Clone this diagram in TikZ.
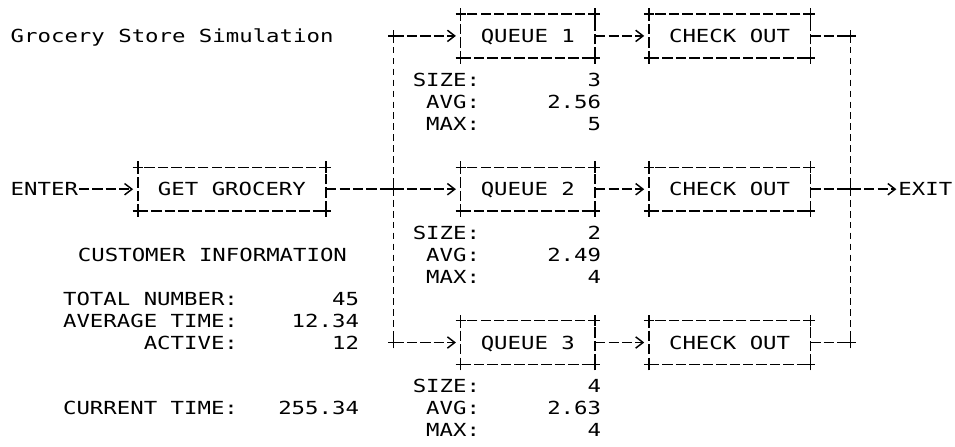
\documentclass[tikz,border=0pt]{standalone}
\usepackage{fontspec}
\setmonofont{DejaVu Sans Mono}[FakeStretch=1.241]
\usetikzlibrary{arrows.meta}

\begin{document}
\begin{tikzpicture}[x=10.0875pt,y=-16.425pt,line width=1.1pt,
  font=\ttfamily\fontsize{13.5}{16}\selectfont,
  scrtext/.style={inner sep=0pt,text height=9.84pt,text depth=0pt},
  dashrow/.style={dash pattern=on 7.8pt off 2.2875pt},
  dashcol/.style={dash pattern=on 5pt off 3.2pt},
  stagebox/.style={scrtext,draw,dashrow,outer sep=0pt,minimum height=32.85pt},
  flow/.style={dashrow,-{Straight Barb[length=5.5pt,width=8.5pt]},shorten >=3.5pt},
  plusmark/.pic={\draw[solid] (-3.8pt,0) -- (3.8pt,0) (0,-4.4pt) -- (0,4.4pt);}]
% one column = one character cell, one row = one text line
\useasboundingbox (-0.7435,-0.639) rectangle (70.26,19.77);
\node[scrtext,anchor=west] (title) at (0,1) {Grocery Store Simulation};
\node[scrtext,anchor=west] (enter) at (0,8) {ENTER};
\node[stagebox,minimum width=141.225pt] (gg) at (16.5,8) {GET GROCERY};
\node[scrtext,anchor=west] (exit) at (66,8) {EXIT};
\foreach \row/\k in {1/1,8/2,15/3}{
  \node[stagebox,minimum width=100.875pt] (q\k) at (38.5,\row) {QUEUE \k};
  \node[stagebox,minimum width=121.05pt] (co\k) at (53.5,\row) {CHECK OUT};
  \coordinate (jl\k) at (28.5,\row);
  \coordinate (jr\k) at (62.5,\row);
  \draw[flow] (jl\k) -- (q\k);
  \draw[flow] (q\k) -- (co\k);
  \draw[dashrow] (co\k) -- (jr\k);
}
\draw[flow] (enter) -- (gg);
\draw[dashrow] (gg) -- (jl2);
\draw[dashcol] (jl1) -- (jl3);
\draw[dashcol] (jr1) -- (jr3);
\draw[flow,shorten >=1pt] (jr2) -- (exit);
% queue statistics
\foreach \row/\sz/\av/\mx [count=\k] in {1/3/2.56/5,8/2/2.49/4,15/4/2.63/4}{
  \node[scrtext,anchor=east] (sizel\k) at (35,\row+2) {SIZE:};
  \node[scrtext,anchor=east] (avgl\k) at (35,\row+3) {AVG:};
  \node[scrtext,anchor=east] (maxl\k) at (35,\row+4) {MAX:};
  \node[scrtext,anchor=east] (size\k) at (44,\row+2) {\sz};
  \node[scrtext,anchor=east] (avg\k) at (44,\row+3) {\av};
  \node[scrtext,anchor=east] (max\k) at (44,\row+4) {\mx};
}
% customer information
\node[scrtext,anchor=west] (custinfo) at (5,11) {CUSTOMER INFORMATION};
\foreach \row/\lab/\val/\nm in {13/TOTAL NUMBER:/45/total,14/AVERAGE TIME:/12.34/avgtime,
    15/ACTIVE:/12/active,18/CURRENT TIME:/255.34/clock}{
  \node[scrtext,anchor=east] (\nm) at (17,\row) {\lab};
  \node[scrtext,anchor=east] (\nm-v) at (26,\row) {\val};
}
% corner and junction marks
\foreach \b in {gg,q1,q2,q3,co1,co2,co3}
  \foreach \a in {north west,north east,south west,south east}
    \pic at (\b.\a) {plusmark};
\foreach \c in {jl1,jl2,jl3,jr1,jr2,jr3}
  \pic at (\c) {plusmark};
\end{tikzpicture}
\end{document}
